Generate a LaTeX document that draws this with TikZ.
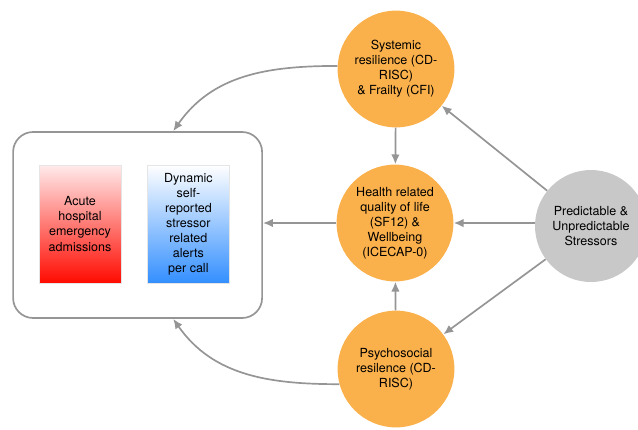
\documentclass[tikz,border=0pt]{standalone}
\usepackage{fontspec}
\setmainfont{TeX Gyre Heros}
\usetikzlibrary{arrows.meta}
\definecolor{ringorange}{HTML}{FAB04B}
\definecolor{stressgrey}{HTML}{C8C8C8}
\definecolor{arrowgrey}{HTML}{959595}
\begin{document}
\begin{tikzpicture}[>={Latex[length=7pt,width=6pt]}, every node/.style={font=\fontsize{8.9}{10.7}\selectfont},
circ/.style={circle, fill=ringorange, align=center, inner sep=0pt, minimum size=2.92cm},
outcome/.style={draw=black!10, align=center, minimum width=2.05cm, minimum height=2.95cm},
arr/.style={->, line width=1.2pt, draw=arrowgrey}]
\useasboundingbox (0,0) rectangle (15.95,-10.725);
\node[draw=arrowgrey, line width=1.2pt, rounded corners=0.5cm, minimum width=6.225cm, minimum height=4.65cm] (outer) at (3.44,-5.625) {};
\node[outcome, top color=red!8, bottom color=red!92!orange] (acute) at (2.0,-5.6) {Acute\\hospital\\emergency\\admissions};
\node[outcome, top color=white, bottom color=blue!55!cyan!80] (alerts) at (4.71,-5.6) {Dynamic\\self-\\reported\\stressor\\related\\alerts\\per call};
\node[circ] (sys) at (9.9,-1.725) {Systemic\\resilience (CD-\\RISC)\\\& Frailty (CFI)};
\node[circ] (hrq) at (9.875,-5.575) {Health related\\quality of life\\(SF12) \&\\Wellbeing\\(ICECAP-0)};
\node[circ] (psy) at (9.9,-9.225) {Psychosocial\\resilence (CD-\\RISC)};
\node[circle, fill=stressgrey, align=center, inner sep=0pt, minimum size=2.8cm] (stress) at (14.775,-5.65) {Predictable \&\\Unpredictable\\Stressors};
\draw[arr] (sys) -- (hrq);
\draw[arr] (psy) -- (hrq);
\draw[arr] (hrq.west) -- (hrq.west -| outer.east);
\draw[arr] (stress) -- (sys);
\draw[arr] (stress.west |- hrq.east) -- (hrq.east);
\draw[arr] (stress) -- (psy);
\draw[arr] (sys.177) to[out=180, in=55] ([xshift=0.89cm]outer.north);
\draw[arr] (psy.195) to[out=180, in=-55] ([xshift=0.89cm]outer.south);
\end{tikzpicture}
\end{document}
